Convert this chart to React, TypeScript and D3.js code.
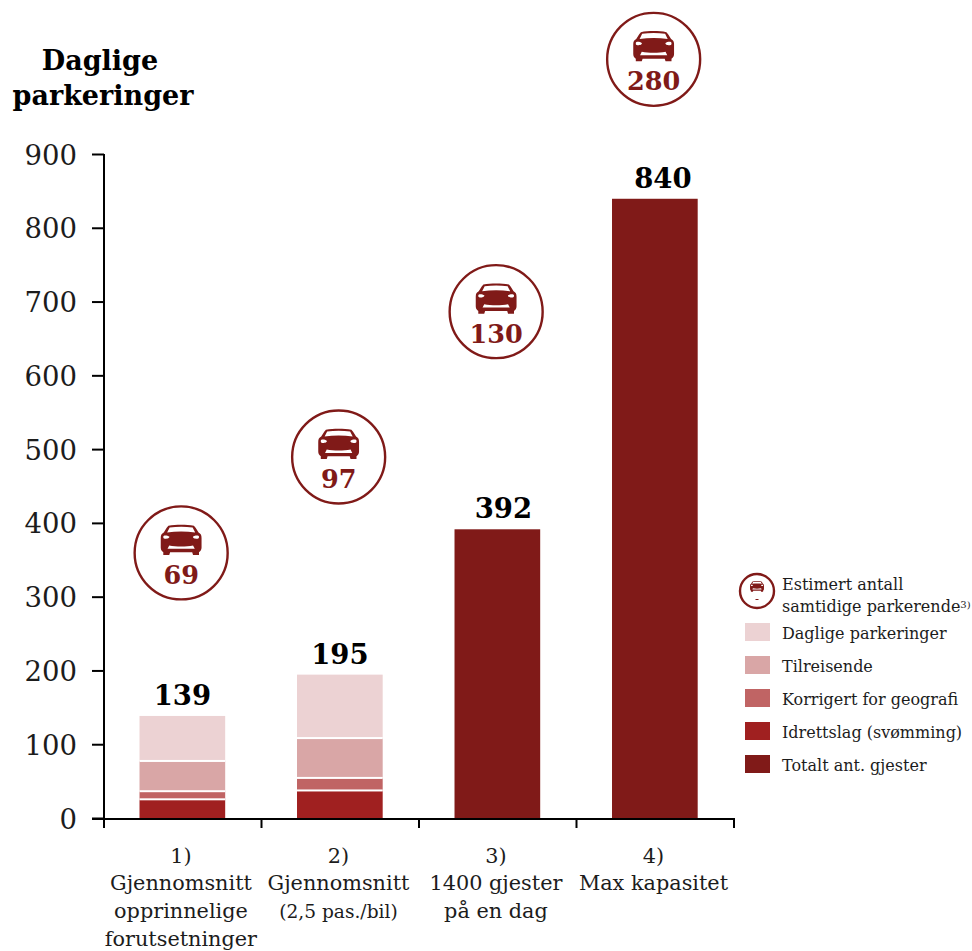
import React from "react";
import * as d3 from "d3";

const categories = ["1)", "2)", "3)", "4)"];
const categoryLines = [
  ["1)", "Gjennomsnitt", "opprinnelige", "forutsetninger"],
  ["2)", "Gjennomsnitt", "(2,5 pas./bil)"],
  ["3)", "1400 gjester", "på en dag"],
  ["4)", "Max kapasitet"],
];
const idrettslag = [26, 38, 0, 0];
const korrigert = [11, 17, 0, 0];
const tilreisende = [41, 54, 0, 0];
const daglige = [61, 86, 0, 0];
const totalt = [0, 0, 392, 840];
const totals = [139, 195, 392, 840];
const samtidige = [69, 97, 130, 280];
const bubbleLevels = [360, 490, 687, 1029];
const yTicks = [0, 100, 200, 300, 400, 500, 600, 700, 800, 900];
const seriesKeys = ["Totalt ant. gjester", "Idrettslag (svømming)", "Korrigert for geografi", "Tilreisende", "Daglige parkeringer"];
const seriesColors = ["#801a18", "#a02020", "#c06464", "#d9a6a6", "#ecd2d3"];
const legendOrder = ["Daglige parkeringer", "Tilreisende", "Korrigert for geografi", "Idrettslag (svømming)", "Totalt ant. gjester"];
const valueLabelDx = [0, 0, 6, 8];

const FONT = "'DejaVu Serif', 'Liberation Serif', serif";
const DARK = "#801a18";
const INK = "#1c1c1c";

const CAR =
  "M-15 -15 L-17 -12 L-20.5 -5 C-23 -3.5 -24 -1 -24 3 L-24 17 C-24 20 -23 22 -21 24 L-21 28 L-14 28 L-13 24 L13 24 L14 28 L21 28 L21 24 C23 22 24 20 24 17 L24 3 C24 -1 23 -3.5 20.5 -5 L17 -12 L15 -15 C6 -17 -6 -17 -15 -15 Z " +
  "M-13.5 -12.5 L-16.5 -5 C-6 -7 6 -7 16.5 -5 L13.5 -12.5 C5 -14 -5 -14 -13.5 -12.5 Z " +
  "M-21 1 C-21 -1.5 -16 -1 -14 1 C-13 3.5 -18 5 -20 4 C-21 3.5 -21 2 -21 1 Z " +
  "M21 1 C21 -1.5 16 -1 14 1 C13 3.5 18 5 20 4 C21 3.5 21 2 21 1 Z " +
  "M-14 14 L-16 19 L16 19 L14 14 C6 16 -6 16 -14 14 Z";

function Car({ x, y, sx, sy }: { x: number; y: number; sx: number; sy: number }) {
  return <path d={CAR} transform={`translate(${x},${y}) scale(${sx},${sy})`} fill={DARK} fillRule="evenodd" />;
}

export default function App() {
  const x = d3.scaleBand<string>().domain(categories).range([103.6, 733.6]).paddingInner(0.456).paddingOuter(0.228);
  const y = d3.scaleLinear().domain([0, 900]).range([818.5, 154.5]);
  const stackInput = categories.map((c, i) => ({
    c,
    [seriesKeys[0]]: totalt[i],
    [seriesKeys[1]]: idrettslag[i],
    [seriesKeys[2]]: korrigert[i],
    [seriesKeys[3]]: tilreisende[i],
    [seriesKeys[4]]: daglige[i],
  }));
  const stacked = d3.stack<any>().keys(seriesKeys)(stackInput);
  const colorOf = d3.scaleOrdinal<string, string>().domain(seriesKeys).range(seriesColors);
  const ctr = (c: string) => (x(c) as number) + x.bandwidth() / 2;
  const xEdges = [104, ...categories.map((c) => ctr(c) + x.step() / 2 + 0.4)];
  return (
    <svg width={972} height={951} style={{ position: "absolute", left: 0, top: 0, background: "#fff" }} fontFamily={FONT}>
      {stacked.map((s) =>
        s.map((d, i) =>
          d[1] > d[0] ? (
            <rect key={s.key + i} x={x(categories[i])} width={x.bandwidth()} y={y(d[1])} height={y(d[0]) - y(d[1])} fill={colorOf(s.key)} />
          ) : null
        )
      )}
      {stacked.slice(1, 4).map((s) =>
        s.map((d, i) =>
          d[1] > d[0] ? (
            <rect key={"g" + s.key + i} x={x(categories[i])} width={x.bandwidth()} y={y(d[1]) - 1} height={2} fill="#fff" />
          ) : null
        )
      )}
      <line x1={104} x2={104} y1={154} y2={820} stroke="#000" strokeWidth={2} />
      <line x1={92} x2={735} y1={819} y2={819} stroke="#000" strokeWidth={2} />
      {yTicks.map((t) => (
        <g key={t}>
          <line x1={92} x2={104} y1={y(t)} y2={y(t)} stroke="#000" strokeWidth={2} />
          <text x={77} y={y(t) + 10} textAnchor="end" fontSize={27.5} fill={INK}>{t}</text>
        </g>
      ))}
      {xEdges.map((e) => (
        <line key={e} x1={e} x2={e} y1={819} y2={828} stroke="#000" strokeWidth={2} />
      ))}
      {categories.map((c, i) => (
        <g key={c}>
          <text x={ctr(c) + valueLabelDx[i]} y={y(totals[i]) - 11} textAnchor="middle" fontSize={27.5} fontWeight="bold" fill="#000">{totals[i]}</text>
          {categoryLines[i].map((t, j) => (
            <text key={j} x={ctr(c) - 1.4} y={862.5 + j * 27.7} textAnchor="middle" fontSize={t.startsWith("(") ? 18.6 : 20.8} fill={INK}>{t}</text>
          ))}
          <circle cx={ctr(c) - 1.2} cy={y(bubbleLevels[i])} r={46.5} fill="#fff" stroke={DARK} strokeWidth={2.4} />
          <Car x={ctr(c) - 1.2} y={y(bubbleLevels[i]) - 17} sx={0.85} sy={0.68} />
          <text x={ctr(c) - 1.2} y={y(bubbleLevels[i]) + 31} textAnchor="middle" fontSize={25.5} fontWeight="bold" fill={DARK}>{samtidige[i]}</text>
        </g>
      ))}
      <text x={100} y={70} textAnchor="middle" fontSize={27} fontWeight="bold" fill="#000">Daglige</text>
      <text x={103} y={105} textAnchor="middle" fontSize={27} fontWeight="bold" fill="#000">parkeringer</text>

      <circle cx={757} cy={591} r={17} fill="#fff" stroke={DARK} strokeWidth={2.4} />
      <Car x={757} y={585} sx={0.29} sy={0.24} />
      <rect x={755.5} y={599} width={3} height={1} fill={DARK} />
      <text x={782} y={590} fontSize={16} fill={INK}>Estimert antall</text>
      <text x={782} y={612} fontSize={16} fill={INK}>samtidige parkerende<tspan fontSize={10} dy={-4}>3)</tspan></text>
      {legendOrder.map((k, i) => (
        <g key={k}>
          <rect x={745} y={623 + i * 33} width={25} height={18} fill={colorOf(k)} />
          <text x={782} y={639 + i * 33} fontSize={16} fill={INK}>{k}</text>
        </g>
      ))}
    </svg>
  );
}
